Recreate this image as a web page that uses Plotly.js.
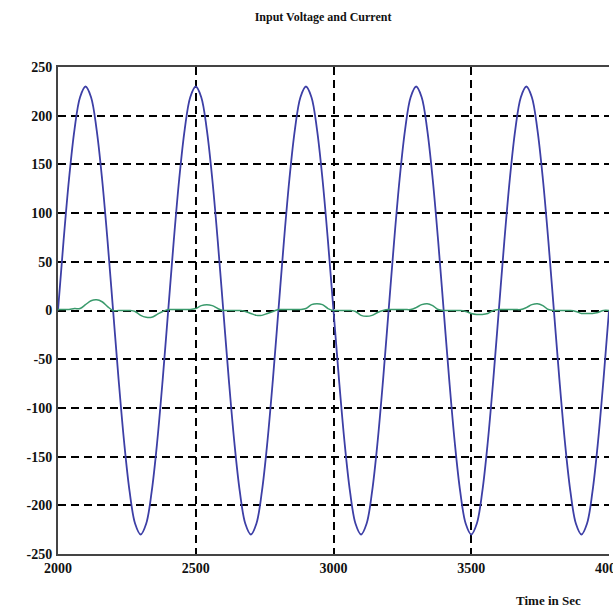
<!DOCTYPE html>
<html><head><meta charset="utf-8">
<script src="https://cdn.plot.ly/plotly-3.0.1.min.js"></script>
<style>html,body{margin:0;padding:0;background:#fff;}#chart{width:613px;height:612px;}</style>
</head><body><div id="chart"></div>
<script>
// Time samples (s)
const time = [];
for (let t = 2000; t <= 4000; t += 20) time.push(t);

// Input voltage (one cycle every 400 s, peak about 230)
const voltage = [
  0, 71, 135, 186, 219, 230, 219, 186, 135, 71,
  0, -71, -135, -186, -219, -230, -219, -186, -135, -71,
  0, 71, 135, 186, 219, 230, 219, 186, 135, 71,
  0, -71, -135, -186, -219, -230, -219, -186, -135, -71,
  0, 71, 135, 186, 219, 230, 219, 186, 135, 71,
  0, -71, -135, -186, -219, -230, -219, -186, -135, -71,
  0, 71, 135, 186, 219, 230, 219, 186, 135, 71,
  0, -71, -135, -186, -219, -230, -219, -186, -135, -71,
  0, 71, 135, 186, 219, 230, 219, 186, 135, 71,
  0, -71, -135, -186, -219, -230, -219, -186, -135, -71,
  0
];

// Input current
const current = [
  1, 1, 1, 2, 2, 6, 10, 11, 9, 4,
  0, 0, 0, 0, -1, -5, -7, -7, -4, -1,
  1, 1, 1, 1, 1, 2, 5, 6, 5, 2,
  0, 0, 0, 0, -1, -3, -5, -5, -3, -1,
  1, 1, 1, 1, 1, 2, 6, 7, 6, 2,
  0, 0, 0, 0, -1, -5, -6, -5, -2, 0,
  1, 1, 1, 1, 1, 3, 6, 7, 5, 1,
  0, 0, 0, 0, -1, -3, -4, -4, -3, 0,
  1, 1, 1, 1, 1, 3, 6, 7, 5, 1,
  0, 0, 0, 0, -1, -3, -3, -3, -2, 0,
  0
];

const xTicks = [2000, 2500, 3000, 3500, 4000];
const xTickText = ['2000', '2500', '3000', '3500', '4000'];
const yTicks = [-250, -200, -150, -100, -50, 0, 50, 100, 150, 200, 250];
const yTickText = ['-250', '-200', '-150', '-100', '-50', '0', '50', '100', '150', '200', '250'];

const tickFont = {family: 'Liberation Serif, serif', size: 14, color: '#111', weight: 'bold'};

const traces = [
  {x: time, y: voltage, type: 'scatter', mode: 'lines', name: 'Voltage',
   line: {color: '#3d3fa6', width: 1.8, shape: 'spline'}},
  {x: time, y: current, type: 'scatter', mode: 'lines', name: 'Current',
   line: {color: '#3a9a6c', width: 1.5, shape: 'spline'}}
];

const layout = {
  width: 613, height: 612,
  paper_bgcolor: '#ffffff', plot_bgcolor: '#ffffff',
  margin: {l: 58, r: 4, t: 67, b: 58},
  showlegend: false,
  font: {family: 'Liberation Serif, serif', size: 14, color: '#111'},
  title: {text: '<b>Input Voltage and Current</b>', x: 0.527, xanchor: 'center', y: 0.972, yanchor: 'middle',
          font: {family: 'Liberation Serif, serif', size: 12, color: '#111'}},
  xaxis: {
    range: [2000, 4000], tickvals: xTicks, ticktext: xTickText, ticklabeloverflow: 'allow',
    showgrid: true, gridcolor: '#000', gridwidth: 2, griddash: '8px,5px',
    zeroline: false, showline: true, linecolor: '#444', linewidth: 2, mirror: true,
    ticks: '', tickfont: tickFont
  },
  yaxis: {
    range: [-250, 250], tickvals: yTicks, ticktext: yTickText,
    showgrid: true, gridcolor: '#000', gridwidth: 2, griddash: '8px,5px',
    zeroline: false, showline: true, linecolor: '#444', linewidth: 2,
    ticks: '', ticklabelstandoff: 1, tickfont: tickFont
  },
  annotations: [{text: '<b>Time in Sec</b>', xref: 'paper', yref: 'paper', x: 0.89, y: -0.095,
      xanchor: 'center', yanchor: 'middle', showarrow: false,
      font: {family: 'Liberation Serif, serif', size: 13, color: '#111'}}]
};

Plotly.newPlot('chart', traces, layout, {displayModeBar: false, staticPlot: true});
</script></body></html>
